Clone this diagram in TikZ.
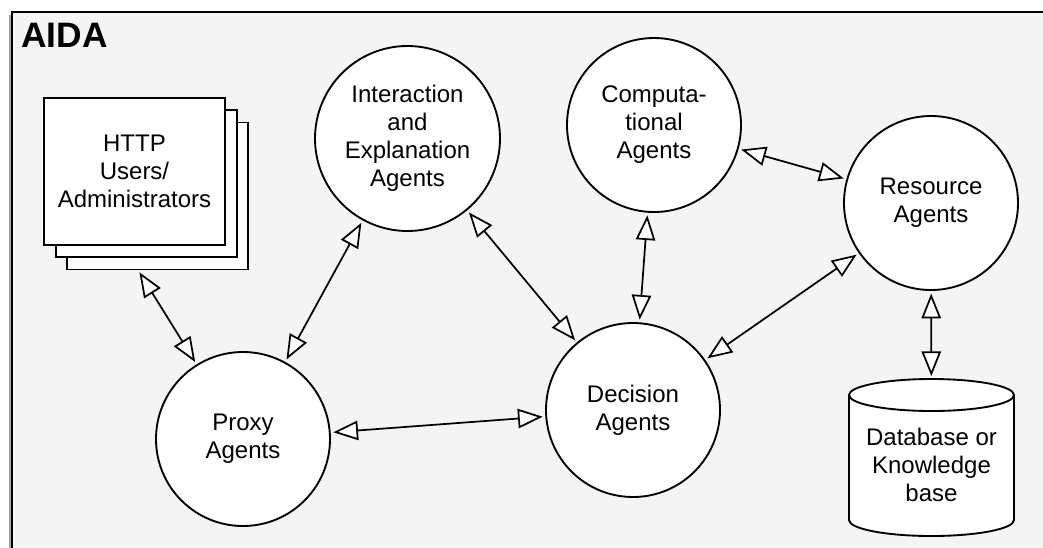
\documentclass[tikz,border=0pt]{standalone}
\usepackage{fontspec}
\setmainfont{Liberation Sans}
\usetikzlibrary{arrows.meta}
\definecolor{framebg}{HTML}{F4F4F4}
\begin{document}
\begin{tikzpicture}[x=0.75pt,y=-0.75pt,
  txt/.style={font=\fontsize{18}{21}\selectfont, align=center},
  agent/.style={circle, draw, fill=white, line width=1.4pt, minimum size=#1, inner sep=0pt, txt},
  page/.style={rectangle, draw, fill=white, line width=1.4pt, minimum width=135.75pt, minimum height=110.25pt, inner sep=0pt, txt},
  tipw/.tip={Triangle[fill=white,length=18.5pt,width=14.5pt]},
  biarrow/.style={tipw-tipw, line width=1.3pt, shorten <=2pt, shorten >=2pt}
]
\useasboundingbox (0,0) rectangle (1043,547);
\clip (0,0) rectangle (1043,547);
% frame with shadow
\fill[black!35] (9,15) rectangle (1070,570);
\draw[line width=1.8pt, fill=framebg] (12,12) rectangle (1070,570);
\node[anchor=base west, inner sep=0pt, font=\bfseries\fontsize{26.5}{30}\selectfont] (title) at (21,47) {AIDA};

% HTTP stack
\node[page] (http3) at (157.5,196) {};
\node[page] (http2) at (146.5,183.5) {};
\node[page] (http) at (134.5,171.5) {HTTP\\Users/\\Administrators};
\coordinate (hs) at (138,270);

% agents
\node[agent=138.75pt] (int) at (407.5,138.5) {Interaction\\and\\Explanation\\Agents};
\node[agent=130.5pt] (comp) at (654,125) {Computa-\\tional\\Agents};
\node[agent=130.5pt] (res) at (931,203) {Resource\\Agents};
\node[agent=130.5pt] (dec) at (633,410) {Decision\\Agents};
\node[agent=130.5pt] (proxy) at (243,439) {Proxy\\Agents};

% database cylinder
\node[rectangle, minimum width=123.75pt, minimum height=117.75pt, inner sep=0pt] (db) at (931.5,457.5) {};
\draw[line width=1.4pt, fill=white] (849,395) -- (849,520) arc[start angle=180, end angle=0, x radius=82.5, y radius=16]
  -- (1014,395) arc[start angle=0, end angle=-180, x radius=82.5, y radius=16] -- cycle;
\draw[line width=1.4pt] (849,395) arc[start angle=180, end angle=0, x radius=82.5, y radius=16];
\node[txt, inner sep=0pt] (dbtext) at (931.5,465) {Database or\\Knowledge\\base};

% connectors
\draw[biarrow] (hs) -- (proxy);
\draw[biarrow] (proxy) -- (int);
\draw[biarrow] (int) -- (dec);
\draw[biarrow] (proxy) -- (dec);
\draw[biarrow] (comp) -- (dec);
\draw[biarrow] (comp) -- (res);
\draw[biarrow] (dec) -- (res);
\draw[biarrow] (res) -- (db);
\end{tikzpicture}
\end{document}
